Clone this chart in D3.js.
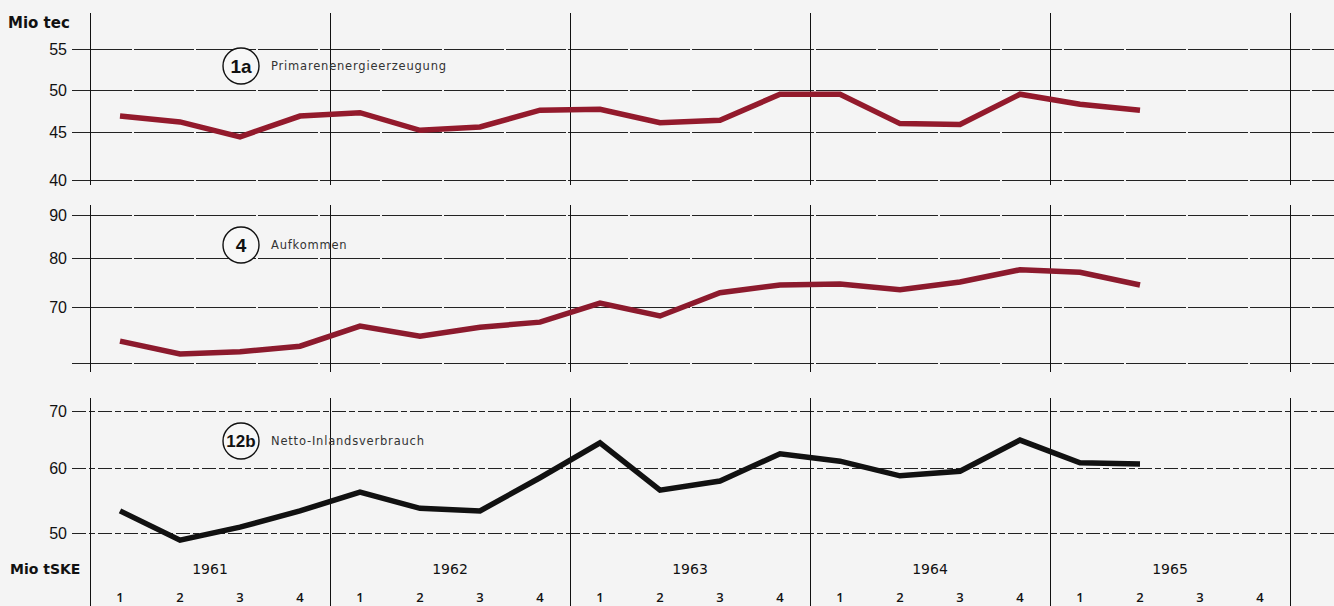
<!DOCTYPE html>
<html><head><meta charset="utf-8">
<script src="https://cdn.jsdelivr.net/npm/d3@7"></script>
<style>html,body{margin:0;padding:0;background:#f4f4f4;}svg{display:block;}</style>
</head><body><svg id="c" width="1334" height="606"></svg>
<script>
const years = [1961, 1962, 1963, 1964, 1965];
const quarters = [1, 2, 3, 4];
// 1a Primärenergieerzeugung (Mio tec)
const production = [46.9, 46.2, 44.5, 46.9, 47.3, 45.2, 45.6, 47.6, 47.7, 46.1, 46.4, 49.5, 49.5, 46.0, 45.9, 49.5, 48.3, 47.6];
// 4 Aufkommen
const supply = [63.9, 61.6, 62.0, 63.0, 66.6, 64.8, 66.4, 67.3, 70.8, 68.4, 72.9, 74.5, 74.7, 73.5, 75.1, 77.6, 77.1, 74.5];
// 12b Netto-Inlandsverbrauch
const consumption = [53.4, 48.9, 50.9, 53.4, 56.3, 53.8, 53.4, 58.5, 64.4, 56.6, 58.0, 62.5, 61.2, 58.8, 59.5, 64.9, 60.9, 60.7];
const ticks1 = [40, 45, 50, 55];
const ticks2 = [60, 70, 80, 90];
const ticks2Labels = ["", "70", "80", "90"];
const ticks3 = [50, 60, 70];

const svg = d3.select("#c");
const keys = [];
years.forEach(y => quarters.forEach(q => keys.push(y + "-" + q)));
const x = d3.scaleBand().domain(keys).range([90, 1290]).paddingInner(0).paddingOuter(0);
const cx = i => x(keys[i]) + x.bandwidth() / 2;

const panels = [
  {data: production, ticks: ticks1, labels: ticks1.map(String), y: d3.scaleLinear().domain([40, 45, 50, 55]).range([180, 132, 90, 49]),
   vtop: 13, vbot: 185, color: "#931a2c", badge: "1a", name: "Primarenenergieerzeugung", by: 66},
  {data: supply, ticks: ticks2, labels: ticks2Labels, y: d3.scaleLinear().domain([60, 70, 80, 90]).range([363, 307, 258, 215]),
   vtop: 205, vbot: 372, color: "#8c1a2d", badge: "4", name: "Aufkommen", by: 245},
  {data: consumption, ticks: ticks3, labels: ticks3.map(String), y: d3.scaleLinear().domain([50, 60, 70]).range([533, 468, 411]),
   vtop: 398, vbot: 606, color: "#111", badge: "12b", name: "Netto-Inlandsverbrauch", by: 441}
];

panels.forEach((p, pi) => {
  const g = svg.append("g");
  const ry = d => Math.round(p.y(d)) + 0.5;
  g.selectAll("line.h").data(p.ticks).join("line")
    .attr("x1", 72).attr("x2", 1334)
    .attr("y1", ry).attr("y2", ry)
    .attr("stroke", "#222").attr("stroke-width", 1)
    .attr("stroke-dasharray", pi === 2 ? "14,3,6,3" : "60,2");
  const seps = years.map(yr => x(yr + "-1")).concat([x.range()[1]]);
  g.selectAll("line.v").data(seps).join("line")
    .attr("x1", d => Math.round(d) + 0.5).attr("x2", d => Math.round(d) + 0.5)
    .attr("y1", p.vtop).attr("y2", p.vbot)
    .attr("stroke", "#111").attr("stroke-width", 1);
  g.selectAll("text.t").data(p.ticks).join("text")
    .attr("x", 67).attr("y", d => p.y(d)).attr("dy", "0.36em")
    .attr("text-anchor", "end")
    .attr("font-family", "Liberation Sans, Arial, sans-serif").attr("font-size", 16)
    .attr("fill", "#111")
    .text((d, i) => p.labels[i]);
  const line = d3.line().x((d, i) => cx(i)).y(d => p.y(d));
  g.append("path").datum(p.data).attr("d", line)
    .attr("fill", "none").attr("stroke", p.color).attr("stroke-width", 5.5)
    .attr("stroke-linejoin", "miter").attr("stroke-linecap", "butt");
  g.append("circle").attr("cx", 241).attr("cy", p.by).attr("r", 18)
    .attr("fill", "#f7f7f7").attr("stroke", "#111").attr("stroke-width", 1.4);
  g.append("text").attr("x", 241).attr("y", p.by).attr("dy", "0.36em")
    .attr("text-anchor", "middle")
    .attr("font-family", "Liberation Sans, Arial, sans-serif").attr("font-size", p.badge.length > 2 ? 17 : 19)
    .attr("font-weight", "bold").attr("fill", "#111")
    .text(p.badge);
  g.append("text").attr("x", 271).attr("y", p.by).attr("dy", "0.36em")
    .attr("font-family", "DejaVu Sans, sans-serif").attr("font-size", 11.5)
    .attr("letter-spacing", 0.8).attr("fill", "#333")
    .text(p.name);
});

svg.append("text").attr("x", 8).attr("y", 28)
  .attr("font-family", "DejaVu Sans, sans-serif").attr("font-size", 15).attr("font-weight", "bold")
  .attr("fill", "#111").text("Mio tec");
svg.append("text").attr("x", 10).attr("y", 574)
  .attr("font-family", "DejaVu Sans, sans-serif").attr("font-size", 14).attr("font-weight", "bold")
  .attr("fill", "#111").text("Mio tSKE");

svg.selectAll("text.year").data(years).join("text")
  .attr("x", d => x(d + "-1") + 2 * x.bandwidth()).attr("y", 574)
  .attr("text-anchor", "middle")
  .attr("font-family", "DejaVu Sans, sans-serif").attr("font-size", 14)
  .attr("fill", "#111").text(d => d);
svg.selectAll("text.q").data(keys).join("text")
  .attr("x", d => x(d) + x.bandwidth() / 2).attr("y", 598).attr("dy", "0.3em")
  .attr("text-anchor", "middle")
  .attr("font-family", "Open Sans, sans-serif").attr("font-size", 13).attr("font-weight", 600)
  .attr("fill", "#111").text(d => d.split("-")[1]);
</script></body></html>
